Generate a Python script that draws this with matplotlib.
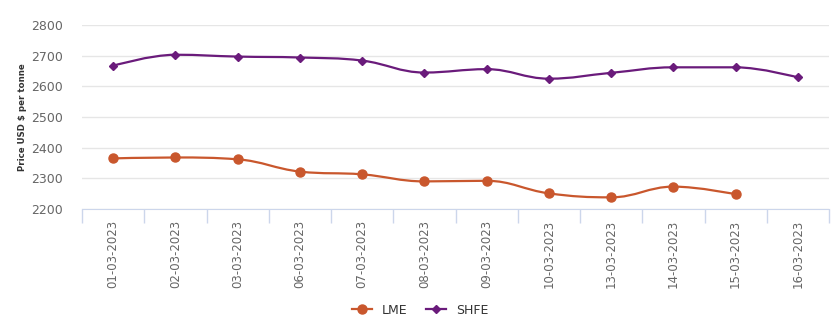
import matplotlib
matplotlib.use("Agg")
import matplotlib.pyplot as plt
from matplotlib.path import Path
from matplotlib.patches import PathPatch
from matplotlib.lines import Line2D
import numpy as np

dates = ["01-03-2023", "02-03-2023", "03-03-2023", "06-03-2023", "07-03-2023",
         "08-03-2023", "09-03-2023", "10-03-2023", "13-03-2023", "14-03-2023",
         "15-03-2023", "16-03-2023"]
lme = [2365, 2368, 2362, 2322, 2313, 2290, 2292, 2251, 2238, 2273, 2248, None]
shfe = [2667, 2703, 2697, 2694, 2684, 2645, 2656, 2625, 2644, 2662, 2662, 2629]

LME_C = "#c9572d"
SHFE_C = "#6a1b7b"

fig = plt.figure(figsize=(8.39, 3.32), dpi=100)
ax = fig.add_axes([82/839, (332-209)/332, (829-82)/839, (209-25)/332])

def spline_path(ax, xs, ys):
    pts = ax.transData.transform(np.column_stack([xs, ys]))
    n = len(pts)
    sm, den = 1.5, 2.5
    lc = [None]*n
    rc = [None]*n
    for i in range(n):
        x, y = pts[i]
        if 0 < i < n-1:
            px, py = pts[i-1]
            nx, ny = pts[i+1]
            lx = (sm*x+px)/den; ly = (sm*y+py)/den
            rx = (sm*x+nx)/den; ry = (sm*y+ny)/den
            if rx != lx:
                j = ((ry-ly)*(rx-x))/(rx-lx) + y - ry
                ly += j; ry += j
            if ly > py and ly > y:
                ly = max(py, y); ry = 2*y-ly
            elif ly < py and ly < y:
                ly = min(py, y); ry = 2*y-ly
            if ry > ny and ry > y:
                ry = max(ny, y); ly = 2*y-ry
            elif ry < ny and ry < y:
                ry = min(ny, y); ly = 2*y-ry
            lc[i] = (lx, ly); rc[i] = (rx, ry)
        else:
            lc[i] = (x, y); rc[i] = (x, y)
    verts = [tuple(pts[0])]
    codes = [Path.MOVETO]
    for i in range(1, n):
        verts += [rc[i-1], lc[i], tuple(pts[i])]
        codes += [Path.CURVE4]*3
    inv = ax.transData.inverted()
    verts = inv.transform(np.array(verts))
    return Path(verts, codes)

x = np.arange(len(dates))
ax.set_xlim(-0.5, len(dates)-0.5)
ax.set_ylim(2200, 2800)
ax.set_yticks(np.arange(2200, 2801, 100))
ax.grid(axis="y", color="#e6e6e6", linewidth=1)
ax.set_axisbelow(True)
for s in ["top", "right", "left"]:
    ax.spines[s].set_visible(False)
ax.spines["bottom"].set_color("#ccd6eb")
ax.tick_params(axis="y", length=0, labelsize=9, labelcolor="#666666", pad=14)

ax.set_xticks(np.arange(-0.5, len(dates)), minor=False)
ax.set_xticklabels([])
ax.tick_params(axis="x", which="major", length=10, color="#ccd6eb", width=1)
ax.set_xticks(x, minor=True)
ax.set_xticklabels(dates, minor=True, rotation=90, fontsize=8.5, color="#666666")
ax.tick_params(axis="x", which="minor", length=0, pad=8)

ax.set_ylabel("Price USD $ per tonne", fontsize=6.2, fontweight="bold", color="#333333")
ax.yaxis.set_label_coords((27-82)/747, 0.5)

fig.canvas.draw()

for vals, col, mk, ms in [(lme, LME_C, "o", 6.5), (shfe, SHFE_C, "D", 4.5)]:
    xs = [xi for xi, v in zip(x, vals) if v is not None]
    ys = [v for v in vals if v is not None]
    p = spline_path(ax, xs, ys)
    ax.add_patch(PathPatch(p, facecolor="none", edgecolor=col, linewidth=1.6, zorder=3))
    ax.plot(xs, ys, linestyle="none", marker=mk, color=col, markersize=ms, zorder=4)

handles = [Line2D([], [], color=LME_C, marker="o", markersize=6.5, linewidth=1.6),
           Line2D([], [], color=SHFE_C, marker="D", markersize=4.5, linewidth=1.6)]
fig.legend(handles, ["LME", "SHFE"], loc="center", bbox_to_anchor=(420/839, 1-310/332),
           ncol=2, frameon=False, fontsize=9, handlelength=1.6, columnspacing=1.5,
           labelcolor="#333333")

fig.savefig("out.png", dpi=100)
